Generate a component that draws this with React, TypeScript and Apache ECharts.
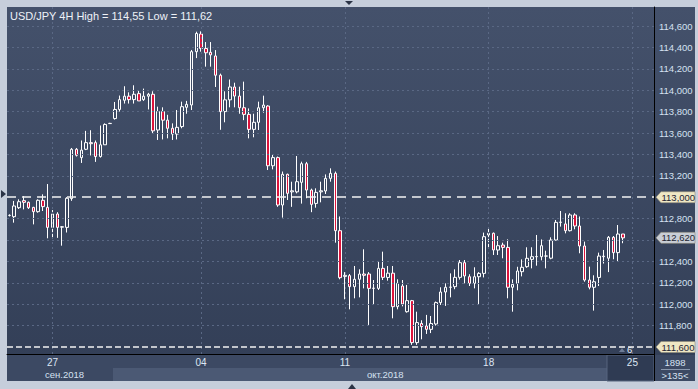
import React, { useEffect, useRef } from 'react';
import * as echarts from 'echarts';

// ---- Data (USD/JPY 4H candles) ----
const opens = [
  112.83, 112.818, 112.902, 112.968, 112.952, 112.905, 112.865, 112.971, 112.905, 112.718,
  112.843, 112.72, 112.718, 112.987, 113.448, 113.37, 113.448, 113.51, 113.51, 113.38,
  113.49, 113.688, 113.735, 113.82, 113.906, 113.944, 113.912, 113.968, 113.912, 113.944,
  113.962, 113.628, 113.8, 113.72, 113.644, 113.59, 113.66, 113.84, 113.862, 114.36,
  114.525, 114.39, 114.354, 114.32, 114.14, 113.8, 113.91, 114.03, 113.945, 113.836,
  113.774, 113.634, 113.7, 113.836, 113.852, 113.294, 113.37, 112.927, 113.214, 113.05,
  113.05, 113.139, 113.313, 113.067, 112.942, 113.05, 113.058, 113.176, 113.223, 112.687,
  112.26, 112.267, 112.164, 112.233, 112.282, 112.282, 112.148, 112.148, 112.335, 112.25,
  112.29, 111.977, 112.17, 111.93, 112.033, 111.641, 111.82, 111.797, 111.765, 111.815,
  112.015, 112.114, 112.158, 112.164, 112.251, 112.388, 112.257, 112.195, 112.257, 112.288,
  112.647, 112.663, 112.506, 112.553, 112.531, 112.158, 112.195, 112.304, 112.351, 112.419,
  112.444, 112.444, 112.45, 112.43, 112.6, 112.765, 112.75, 112.687, 112.834, 112.731,
  112.544, 112.226, 112.158, 112.25, 112.444, 112.43, 112.625, 112.482, 112.656,
];
const closes = [
  112.83, 112.918, 112.958, 112.952, 112.902, 112.865, 112.971, 112.912, 112.718, 112.843,
  112.718, 112.724, 112.99, 113.448, 113.392, 113.44, 113.51, 113.5, 113.38, 113.49,
  113.68, 113.69, 113.82, 113.912, 113.944, 113.912, 113.962, 113.9, 113.944, 113.962,
  113.62, 113.8, 113.72, 113.644, 113.59, 113.653, 113.846, 113.868, 114.36, 114.53,
  114.39, 114.35, 114.33, 114.14, 113.8, 113.91, 114.03, 113.945, 113.836, 113.774,
  113.634, 113.7, 113.836, 113.861, 113.294, 113.37, 112.927, 113.214, 113.036, 113.06,
  113.145, 113.313, 113.067, 112.933, 113.045, 113.06, 113.176, 113.223, 112.687, 112.248,
  112.27, 112.164, 112.233, 112.282, 112.27, 112.148, 112.15, 112.335, 112.251, 112.29,
  111.977, 112.195, 112.002, 112.033, 111.641, 111.828, 111.79, 111.765, 111.82, 112.015,
  112.114, 112.158, 112.16, 112.251, 112.388, 112.264, 112.195, 112.257, 112.288, 112.631,
  112.663, 112.507, 112.547, 112.531, 112.158, 112.186, 112.31, 112.345, 112.429, 112.444,
  112.445, 112.547, 112.45, 112.6, 112.765, 112.767, 112.687, 112.834, 112.731, 112.544,
  112.226, 112.158, 112.21, 112.45, 112.449, 112.625, 112.482, 112.656, 112.62,
];
const lows = [
  112.82, 112.762, 112.89, 112.886, 112.89, 112.746, 112.855, 112.871, 112.616, 112.616,
  112.62, 112.547, 112.67, 112.966, 113.38, 113.32, 113.44, 113.39, 113.33, 113.37,
  113.49, 113.685, 113.725, 113.8, 113.875, 113.875, 113.875, 113.9, 113.9, 113.82,
  113.6, 113.535, 113.54, 113.55, 113.535, 113.54, 113.644, 113.78, 113.815, 114.3,
  114.36, 114.22, 114.22, 114.03, 113.63, 113.7, 113.84, 113.84, 113.78, 113.72,
  113.55, 113.56, 113.628, 113.79, 113.254, 113.26, 112.91, 112.809, 112.974, 112.91,
  113.036, 112.94, 112.99, 112.86, 112.902, 112.952, 113.03, 113.145, 112.575, 112.233,
  112.046, 111.952, 112.055, 112.064, 112.148, 111.806, 111.993, 112.133, 112.226, 112.22,
  111.868, 111.952, 111.98, 111.921, 111.62, 111.62, 111.672, 111.722, 111.73, 111.8,
  111.993, 111.984, 112.064, 112.14, 112.23, 112.195, 112.17, 112.148, 112.002, 112.25,
  112.52, 112.46, 112.46, 112.429, 112.055, 111.93, 112.13, 112.26, 112.34, 112.335,
  112.36, 112.41, 112.335, 112.42, 112.595, 112.725, 112.662, 112.68, 112.7, 112.476,
  112.21, 112.139, 111.94, 112.17, 112.38, 112.3, 112.42, 112.4, 112.57,
];
const highs = [
  112.84, 112.965, 112.98, 113.011, 112.96, 112.91, 112.98, 113.027, 113.123, 112.88,
  112.86, 112.73, 113.0, 113.46, 113.46, 113.53, 113.62, 113.626, 113.53, 113.67,
  113.69, 113.695, 113.89, 113.95, 114.037, 113.98, 114.046, 113.999, 114.015, 113.975,
  113.99, 113.846, 113.84, 113.77, 113.69, 113.815, 113.893, 113.9, 114.376, 114.547,
  114.55, 114.45, 114.45, 114.375, 114.155, 113.99, 114.1, 114.07, 114.033, 114.08,
  113.83, 113.78, 113.893, 113.949, 113.86, 113.4, 113.38, 113.24, 113.22, 113.145,
  113.385, 113.332, 113.33, 113.08, 113.083, 113.145, 113.213, 113.27, 113.24, 112.82,
  112.3, 112.282, 112.357, 112.326, 112.513, 112.3, 112.226, 112.404, 112.491, 112.357,
  112.357, 112.233, 112.226, 112.18, 112.04, 111.93, 111.85, 111.9, 111.89, 112.025,
  112.158, 112.195, 112.288, 112.326, 112.413, 112.413, 112.28, 112.345, 112.3, 112.669,
  112.718, 112.67, 112.637, 112.575, 112.606, 112.232, 112.35, 112.419, 112.532, 112.532,
  112.647, 112.605, 112.5, 112.625, 112.787, 112.871, 112.85, 112.85, 112.85, 112.82,
  112.585, 112.351, 112.27, 112.482, 112.507, 112.637, 112.637, 112.74, 112.656,
];

const yTicks = [
  111.6, 111.8, 112.0, 112.2, 112.4, 112.6, 112.8, 113.0,
  113.2, 113.4, 113.6, 113.8, 114.0, 114.2, 114.4, 114.6,
];
const dayIdx = [9, 40, 70, 100, 130];
const dayLabels = ['27', '04', '11', '18', '25'];
const monthLabels = ['сен.2018', 'окт.2018'];
const levels = [113.0, 111.6];
const lastPrice = 112.62;
const titleText = 'USD/JPY 4H High = 114,55 Low = 111,62';
const barsInfo = ['1898', '>135<'];
const markerCount = '6';

const CAT_COUNT = 135;
const Y_MIN = 111.5346;
const Y_MAX = 114.7776;
const FONT = 'Liberation Sans, Arial, sans-serif';

const fmt = (v: number) => v.toFixed(3).replace('.', ',');

export default function App() {
  const ref = useRef<HTMLDivElement>(null);

  useEffect(() => {
    document.body.style.margin = '0';
    const chart = echarts.init(ref.current!, undefined, { renderer: 'svg' });
    const cats = Array.from({ length: CAT_COUNT }, (_, i) => String(i));
    const candles = opens.map((o, i) => [o, closes[i], lows[i], highs[i]]);
    const tagValues = [...levels, lastPrice];
    // axis labels hidden where a price tag covers them
    const labelValues = yTicks.filter((v) => tagValues.every((t) => Math.abs(t - v) > 0.1));

    const gridStyle = { color: '#5a6884', type: [2, 3], width: 1 };

    chart.setOption({
      animation: false,
      backgroundColor: '#c6cedb',
      grid: { left: 7, top: 7, width: 647, height: 347, containLabel: false },
      xAxis: {
        type: 'category',
        data: cats,
        boundaryGap: true,
        axisLine: { show: true, lineStyle: { color: '#000000', width: 1 } },
        axisTick: { show: false },
        splitLine: { show: false },
        axisLabel: {
          interval: (i: number) => dayIdx.includes(i),
          formatter: (_v: string, i: number) => {
            const k = dayIdx.indexOf(i);
            return k >= 0 ? dayLabels[k] : '';
          },
          color: (_v: string, i: number) => (i === dayIdx[dayIdx.length - 1] ? '#6d7c96' : '#dde6f3'),
          fontSize: 10,
          fontFamily: FONT,
          margin: 3,
        },
      },
      yAxis: {
        type: 'value',
        position: 'right',
        min: Y_MIN,
        max: Y_MAX,
        axisLine: { show: true, lineStyle: { color: '#000000', width: 1 } },
        axisTick: { show: false },
        splitLine: { show: false },
        axisLabel: {
          customValues: labelValues,
          formatter: (v: number) => fmt(v),
          color: '#d5e1f1',
          fontSize: 9.5,
          fontFamily: FONT,
          margin: 5,
        },
      },
      series: [
        {
          type: 'line',
          data: [],
          z: 1,
          silent: true,
          markLine: {
            silent: true,
            symbol: 'none',
            label: { show: false },
            animation: false,
            data: [
              ...yTicks.filter((v) => !levels.includes(v)).map((v) => ({ yAxis: v, lineStyle: gridStyle })),
              ...dayIdx.map((i) => ({ xAxis: i, lineStyle: gridStyle })),
              { yAxis: levels[0], lineStyle: { color: '#f2f2f2', type: [9, 6], width: 1.5 } },
              { yAxis: levels[1], lineStyle: { color: '#f2f2f2', type: [6, 3], width: 1.5 } },
            ],
          },
        },
        {
          type: 'candlestick',
          data: candles,
          barWidth: 3,
          z: 3,
          itemStyle: {
            color: 'rgba(0,0,0,0)',
            color0: '#dc143c',
            borderColor: '#ffffff',
            borderColor0: '#ffffff',
            borderColorDoji: '#ffffff',
            borderWidth: 1,
          },
        },
      ],
    });

    const py = (v: number) => chart.convertToPixel({ yAxisIndex: 0 }, v) as number;
    const tag = (v: number, fill: string, id: string) => {
      const y = py(v);
      return {
        type: 'group',
        id,
        z: 50,
        children: [
          {
            type: 'polygon',
            shape: { points: [[656, y], [661, y - 5.5], [695, y - 5.5], [695, y + 5.5], [661, y + 5.5]] },
            style: { fill, stroke: '#8d8a78', lineWidth: 0.6 },
          },
          {
            type: 'text',
            x: 661.5,
            y,
            style: { text: fmt(v), fill: '#1d2433', font: `9.5px ${FONT}`, textVerticalAlign: 'middle' },
          },
        ],
      };
    };

    const graphics: any[] = [
      // dark panel
      {
        type: 'rect', z: -5,
        shape: { x: 7, y: 7, width: 688, height: 374 },
        style: {
          fill: new echarts.graphic.LinearGradient(0, 0, 0, 1, [
            { offset: 0, color: '#44516b' },
            { offset: 1, color: '#323e56' },
          ]),
        },
      },
      // bottom strip rows
      { type: 'rect', z: -4, shape: { x: 7, y: 355, width: 647, height: 26 }, style: { fill: '#3c4963' } },
      { type: 'rect', z: -4, shape: { x: 113, y: 368, width: 494, height: 13 }, style: { fill: '#4b5974' } },
      { type: 'rect', z: -3, shape: { x: 607, y: 355, width: 47, height: 26 }, style: { fill: '#2f3b53', stroke: '#56647f', lineWidth: 1 } },
      { type: 'rect', z: -4, shape: { x: 655, y: 355, width: 40, height: 26 }, style: { fill: '#3c4963' } },
      { type: 'line', z: 10, shape: { x1: 654.5, y1: 354, x2: 654.5, y2: 381 }, style: { stroke: '#000000', lineWidth: 1 } },
      { type: 'line', z: 10, shape: { x1: 661, y1: 369.5, x2: 690, y2: 369.5 }, style: { stroke: '#8a98ae', lineWidth: 1 } },
      { type: 'text', z: 10, x: 675, y: 362.5, style: { text: barsInfo[0], fill: '#d5e1f1', font: `9.5px ${FONT}`, textAlign: 'center', textVerticalAlign: 'middle' } },
      { type: 'text', z: 10, x: 675, y: 375.5, style: { text: barsInfo[1], fill: '#d5e1f1', font: `9.5px ${FONT}`, textAlign: 'center', textVerticalAlign: 'middle' } },
      // month labels
      { type: 'text', z: 10, x: 45, y: 374.5, style: { text: monthLabels[0], fill: '#d5e1f1', font: `9.5px ${FONT}`, textVerticalAlign: 'middle' } },
      { type: 'text', z: 10, x: 367, y: 374.5, style: { text: monthLabels[1], fill: '#d5e1f1', font: `9.5px ${FONT}`, textVerticalAlign: 'middle' } },
      // title
      { type: 'text', z: 10, x: 10, y: 16, style: { text: titleText, fill: '#eef2f8', font: `11px ${FONT}`, textVerticalAlign: 'middle' } },
      // bar count marker
      { type: 'polygon', z: 10, shape: { points: [[619, 352], [622, 348], [625, 352]] }, style: { fill: '#6d7c96' } },
      { type: 'text', z: 10, x: 627, y: 349.5, style: { text: markerCount, fill: '#e6edf7', font: `9.5px ${FONT}`, textVerticalAlign: 'middle' } },
      // frame triangles
      { type: 'polygon', z: 10, shape: { points: [[345, 1], [353, 1], [349, 5]] }, style: { fill: '#2b3446' } },
      { type: 'polygon', z: 10, shape: { points: [[348, 389], [356, 389], [352, 384]] }, style: { fill: '#2b3446' } },
      { type: 'polygon', z: 10, shape: { points: [[1, 190], [1, 198], [6, 194]] }, style: { fill: '#2b3446' } },
      // price tags
      tag(levels[0], '#efe7c4', 'tag0'),
      tag(lastPrice, '#c9ced6', 'tag1'),
      tag(levels[1], '#efe7c4', 'tag2'),
    ];

    chart.setOption({ graphic: graphics });

    return () => chart.dispose();
  }, []);

  return (
    <div
      ref={ref}
      style={{ position: 'fixed', left: 0, top: 0, width: 698, height: 389 }}
    />
  );
}
